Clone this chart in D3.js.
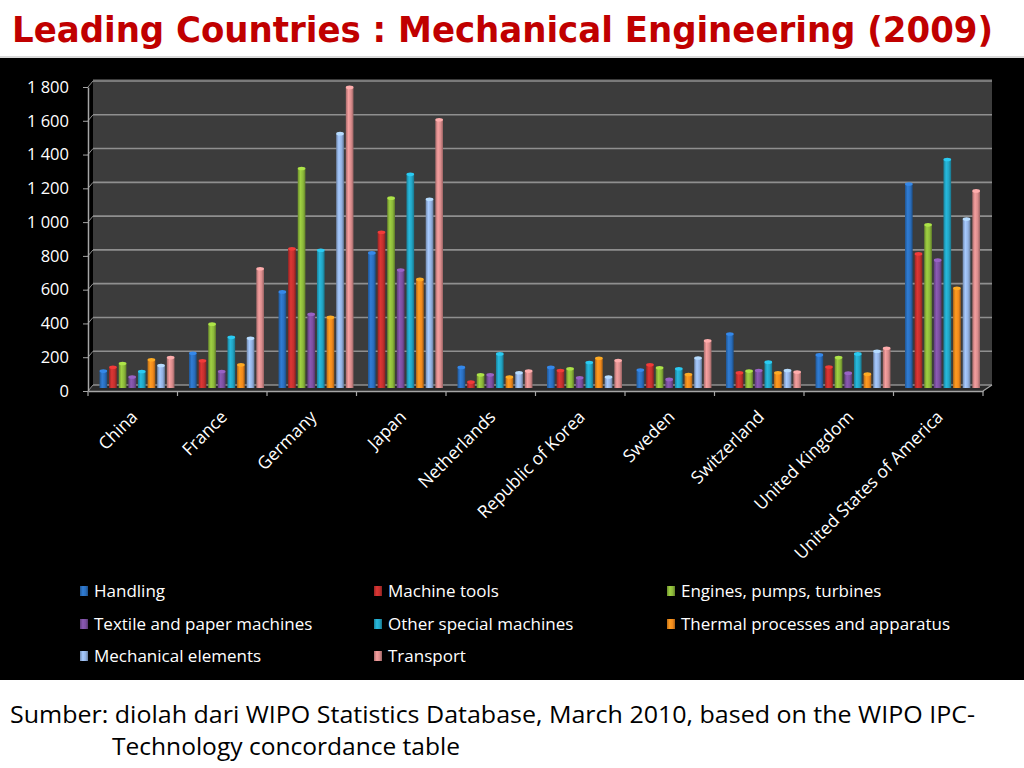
<!DOCTYPE html>
<html><head><meta charset="utf-8">
<script src="https://cdn.jsdelivr.net/npm/d3@7"></script>
<style>html,body{margin:0;padding:0;background:#fff;}svg{display:block;}</style>
</head><body>
<svg id="chart" width="1024" height="768"></svg>
<script>
const countries = ["China","France","Germany","Japan","Netherlands","Republic of Korea","Sweden","Switzerland","United Kingdom","United States of America"];
const seriesNames = ["Handling","Machine tools","Engines, pumps, turbines","Textile and paper machines","Other special machines","Thermal processes and apparatus","Mechanical elements","Transport"];
const handling     = [100, 206, 569, 800, 122, 122, 106, 320, 196, 1208];
const machineTools = [123, 161, 824, 922, 35, 104, 137, 90, 124, 794];
const engines      = [145, 378, 1300, 1124, 78, 114, 120, 100, 180, 966];
const textile      = [65, 98, 437, 698, 78, 61, 51, 104, 88, 757];
const otherSpecial = [98, 300, 816, 1265, 202, 151, 114, 153, 202, 1353];
const thermal      = [167, 137, 418, 643, 65, 176, 80, 90, 82, 590];
const mechanical   = [133, 294, 1506, 1118, 90, 65, 178, 104, 218, 1000];
const transport    = [180, 706, 1780, 1588, 100, 163, 280, 94, 235, 1167];
const yTicks = [0, 200, 400, 600, 800, 1000, 1200, 1400, 1600, 1800];
const seriesColors = ["#2a6ebd","#c3302e","#8cb83a","#7b4f9f","#22a4c4","#f28a1c","#93b2e2","#d98c8c"];
const seriesValues = [handling, machineTools, engines, textile, otherSpecial, thermal, mechanical, transport];

const svg = d3.select("#chart");
const defs = svg.append("defs");

// backgrounds
svg.append("rect").attr("x",0).attr("y",0).attr("width",1024).attr("height",768).attr("fill","#fff");
svg.append("rect").attr("x",0).attr("y",56).attr("width",1024).attr("height",2).attr("fill","#d9d9d9");
svg.append("rect").attr("x",0).attr("y",58).attr("width",1024).attr("height",622).attr("fill","#000");

// title
svg.append("text").attr("x",12).attr("y",42)
  .attr("font-family","'DejaVu Sans Condensed', 'DejaVu Sans', sans-serif").attr("font-weight","bold")
  .attr("font-size",35).attr("fill","#c00000")
  .attr("textLength",981).attr("lengthAdjust","spacingAndGlyphs")
  .text("Leading Countries : Mechanical Engineering (2009)");

// scales
const left = 88, right = 983, bottom = 391;
const dx = 5, dy = -6; // 3D depth offset
const y = d3.scaleLinear().domain([0,1800]).range([bottom, 87]);
const x0 = d3.scaleBand().domain(countries).range([left, right]).padding(0);
const x1 = d3.scaleBand().domain(seriesNames).range([9, 84]).paddingInner(0.2).paddingOuter(0);

// back wall
svg.append("rect").attr("x",left+dx).attr("y",y(1800)+dy-2).attr("width",right+dx+4-(left+dx)).attr("height",bottom+dy-(y(1800)+dy-2))
  .attr("fill","#3c3c3c");
// floor
svg.append("polygon").attr("points",[[left,bottom],[right,bottom],[right+dx+4,bottom+dy],[left+dx,bottom+dy]].map(p=>p.join(",")).join(" "))
  .attr("fill","#2a2a2a");

// gridlines on back wall
const grid = svg.append("g");
yTicks.forEach(v=>{
  grid.append("line").attr("x1",left+dx).attr("x2",right+dx+4).attr("y1",y(v)+dy).attr("y2",y(v)+dy)
    .attr("stroke","#8f8f8f").attr("stroke-width",1.6);
  grid.append("line").attr("x1",left).attr("x2",left+dx).attr("y1",y(v)).attr("y2",y(v)+dy)
    .attr("stroke","#8f8f8f").attr("stroke-width",1);
});

// gradients
seriesColors.forEach((c,i)=>{
  const g = defs.append("linearGradient").attr("id","g"+i).attr("x1","0").attr("x2","1").attr("y1","0").attr("y2","0");
  const base = d3.color(c);
  g.append("stop").attr("offset","0").attr("stop-color",base.darker(0.7));
  g.append("stop").attr("offset","0.35").attr("stop-color",base.brighter(0.35));
  g.append("stop").attr("offset","0.7").attr("stop-color",base);
  g.append("stop").attr("offset","1").attr("stop-color",base.darker(1.0));
});

// bars (sit at mid depth of the 3D box)
const mdx = dx/2, mdy = dy/2;
const bars = svg.append("g");
countries.forEach((cName, ci)=>{
  const gx = x0(cName);
  seriesNames.forEach((s, si)=>{
    const v = seriesValues[si][ci];
    const bx = gx + x1(s) + mdx, bw = x1.bandwidth();
    const top = y(v) + mdy, bBottom = bottom + mdy;
    bars.append("rect").attr("x",bx).attr("y",top).attr("width",bw).attr("height",Math.max(0,bBottom-top))
      .attr("fill","url(#g"+si+")");
    bars.append("ellipse").attr("cx",bx+bw/2).attr("cy",top).attr("rx",bw/2).attr("ry",1.8)
      .attr("fill",d3.color(seriesColors[si]).brighter(0.6));
  });
});

// y axis
const fmt = d3.formatLocale({decimal:".", thousands:" ", grouping:[3], currency:["",""]}).format(",");
const yAxis = svg.append("g").attr("transform",`translate(${left},0)`)
  .call(d3.axisLeft(y).tickValues(yTicks).tickSize(5).tickPadding(14).tickFormat(fmt).tickSizeOuter(0));
yAxis.select(".domain").attr("stroke","#a6a6a6").attr("stroke-width",1.5);
yAxis.selectAll(".tick line").attr("stroke","#a6a6a6");
yAxis.selectAll(".tick text").attr("fill","#fff").attr("font-family","'Open Sans', sans-serif").attr("font-size",16.5);

// x axis
const xAxis = svg.append("g").attr("transform",`translate(0,${bottom})`)
  .call(d3.axisBottom(x0).tickSize(0).tickFormat(""));
xAxis.select(".domain").attr("stroke","#a6a6a6").attr("stroke-width",1.5);
const bounds = countries.map(c=>x0(c)).concat([right]);
bounds.forEach(bx=>{
  svg.append("line").attr("x1",bx).attr("x2",bx).attr("y1",bottom).attr("y2",bottom+5).attr("stroke","#a6a6a6").attr("stroke-width",1.2);
});
svg.append("line").attr("x1",right).attr("x2",right+dx+4).attr("y1",bottom).attr("y2",bottom+dy).attr("stroke","#a6a6a6").attr("stroke-width",1.2);

// category labels
svg.append("g").selectAll("text").data(countries).join("text")
  .attr("transform",d=>`translate(${x0(d)+x0.bandwidth()/2 + 6},${bottom+27}) rotate(-45)`)
  .attr("text-anchor","end").attr("font-family","'Open Sans', sans-serif").attr("font-size",17.5).attr("fill","#fff")
  .text(d=>d);

// legend
const legX = [80, 374, 667], legY = [591, 624, 656];
const legend = svg.append("g");
seriesNames.forEach((s,i)=>{
  const col = i % 3, row = Math.floor(i/3);
  legend.append("rect").attr("x",legX[col]).attr("y",legY[row]-5).attr("width",8).attr("height",10).attr("fill","url(#g"+i+")");
  legend.append("text").attr("x",legX[col]+14).attr("y",legY[row]).attr("dy","0.35em")
    .attr("font-family","'Open Sans', sans-serif").attr("font-size",17).attr("fill","#fff").text(s);
});

// footer
const foot = svg.append("g").attr("font-family","'Open Sans', sans-serif").attr("font-size",24).attr("fill","#000");
foot.append("text").attr("x",10).attr("y",723).attr("textLength",965).attr("lengthAdjust","spacingAndGlyphs")
  .text("Sumber: diolah dari WIPO Statistics Database, March 2010, based on the WIPO IPC-");
foot.append("text").attr("x",112).attr("y",755).attr("textLength",348).attr("lengthAdjust","spacingAndGlyphs")
  .text("Technology concordance table");
</script>
</body></html>
